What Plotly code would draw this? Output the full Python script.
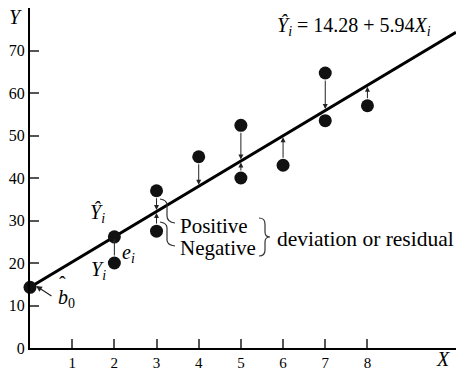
import plotly.graph_objects as go

# ---- data ----
x_obs = [2, 3, 3, 4, 5, 5, 6, 7, 7, 8]
y_obs = [20, 37, 27.5, 45, 52.4, 40, 43, 64.7, 53.5, 57]
b0 = 14.28
b1 = 5.94
x_line_end = 10.1
x_ticks = [1, 2, 3, 4, 5, 6, 7, 8]
y_ticks = [0, 10, 20, 30, 40, 50, 60, 70]
x_hat_point = 2

SERIF = "Liberation Serif"

# pixel helpers (plot area: x 30..456, y 8..348)
L, R, T, B = 30, 456, 8, 348
XR = (0, 10.1)
YR = (0, 80)
def px(p):
    return XR[0] + (p - L) / (R - L) * (XR[1] - XR[0])
def py(p):
    return YR[0] + (B - p) / (B - T) * (YR[1] - YR[0])
def fx(p):
    return (p - L) / (R - L)
def fy(p):
    return (B - p) / (B - T)

def yhat(x):
    return b0 + b1 * x

fig = go.Figure()

# regression line
fig.add_trace(go.Scatter(x=[0, x_line_end], y=[yhat(0), yhat(x_line_end)], mode="lines",
                         line=dict(color="black", width=3), cliponaxis=False,
                         hoverinfo="skip", showlegend=False))
# observed points
fig.add_trace(go.Scatter(x=x_obs, y=y_obs, mode="markers",
                         marker=dict(color="#111", size=13), cliponaxis=False,
                         showlegend=False))
# intercept and fitted point
fig.add_trace(go.Scatter(x=[0, x_hat_point], y=[yhat(0), yhat(x_hat_point)], mode="markers",
                         marker=dict(color="#111", size=13), cliponaxis=False,
                         showlegend=False))

ann = []
# residual arrows
for xi, yi in zip(x_obs, y_obs):
    yl = yhat(xi)
    if abs(yi - yl) < 3:
        continue
    ann.append(dict(x=xi, y=yl, ax=xi, ay=yi, xref="x", yref="y", axref="x", ayref="y",
                    text="", showarrow=True, arrowhead=2, arrowsize=1, arrowwidth=1,
                    arrowcolor="#222", startstandoff=6, standoff=1.5))

def txt(x, y, t, size=21, xanchor="center", yanchor="middle"):
    ann.append(dict(x=fx(x), y=fy(y), xref="paper", yref="paper", text=t, showarrow=False,
                    font=dict(family=SERIF, size=size, color="black"),
                    xanchor=xanchor, yanchor=yanchor))

# equation
txt(275, 26, "<i>\u0176</i><sub><i>i</i></sub> = 14.28 + 5.94<i>X</i><sub><i>i</i></sub>",
    size=20, xanchor="left")
# axis titles
txt(15, 17, "<i>Y</i>", size=20)
txt(443, 359, "<i>X</i>", size=20)
# point labels
txt(97, 213, "<i>\u0176</i><sub><i>i</i></sub>", size=20)
txt(128, 253, "<i>e</i><sub><i>i</i></sub>", size=20)
txt(98, 270, "<i>Y</i><sub><i>i</i></sub>", size=20)
txt(66, 298, "<i>b</i><sub>0</sub>", size=20)
txt(62, 284, "\u02c6", size=20)
# b0 arrow
ann.append(dict(x=px(36), y=py(286), ax=px(53), ay=py(297), xref="x", yref="y",
                axref="x", ayref="y", text="", showarrow=True, arrowhead=2,
                arrowsize=1, arrowwidth=1.2, arrowcolor="#222"))
# brace labels
txt(178, 226, "Positive", xanchor="left")
txt(178, 248, "Negative", xanchor="left")
txt(275, 239, "deviation or residual", size=21.5, xanchor="left")

def path(pts_cmds):
    out = []
    for c in pts_cmds:
        if isinstance(c, str):
            out.append(c)
        else:
            out.append(f"{px(c[0]):.4f},{py(c[1]):.4f}")
    return " ".join(out)

shapes = []
brace_style = dict(type="path", xref="x", yref="y", line=dict(color="#333", width=1.2))
# positive brace
shapes.append(dict(path=path(["M", (160, 199), "Q", (167, 200), (167, 205), "L", (167, 216),
                              "Q", (167, 222), (175, 223)]), **brace_style))
# negative brace
shapes.append(dict(path=path(["M", (160, 222), "Q", (167, 223), (167, 228), "L", (167, 240),
                              "Q", (167, 245), (175, 246)]), **brace_style))
# big right brace
shapes.append(dict(path=path(["M", (259, 218), "Q", (265, 218), (265, 224), "L", (265, 232),
                              "Q", (265, 237), (270, 237), "Q", (265, 237), (265, 242),
                              "L", (265, 250), "Q", (265, 256), (259, 256)]), **brace_style))

axis_common = dict(showline=True, linewidth=2, linecolor="black", ticks="inside",
                   ticklen=9, tickwidth=1.5, tickcolor="#555", showgrid=False,
                   zeroline=False, automargin=False)

fig.update_layout(
    width=456, height=369,
    margin=dict(l=L, r=456 - R, t=T, b=369 - B),
    plot_bgcolor="white", paper_bgcolor="white",
    xaxis=dict(range=list(XR), tickvals=x_ticks,
               tickfont=dict(family=SERIF, size=15, color="black"), **axis_common),
    yaxis=dict(range=list(YR), tickvals=y_ticks,
               tickfont=dict(family=SERIF, size=16, color="black"), **axis_common),
    annotations=ann, shapes=shapes, showlegend=False,
)

fig.write_html("out.html", config={"displayModeBar": False},
               post_script="document.body.style.margin='0';")
